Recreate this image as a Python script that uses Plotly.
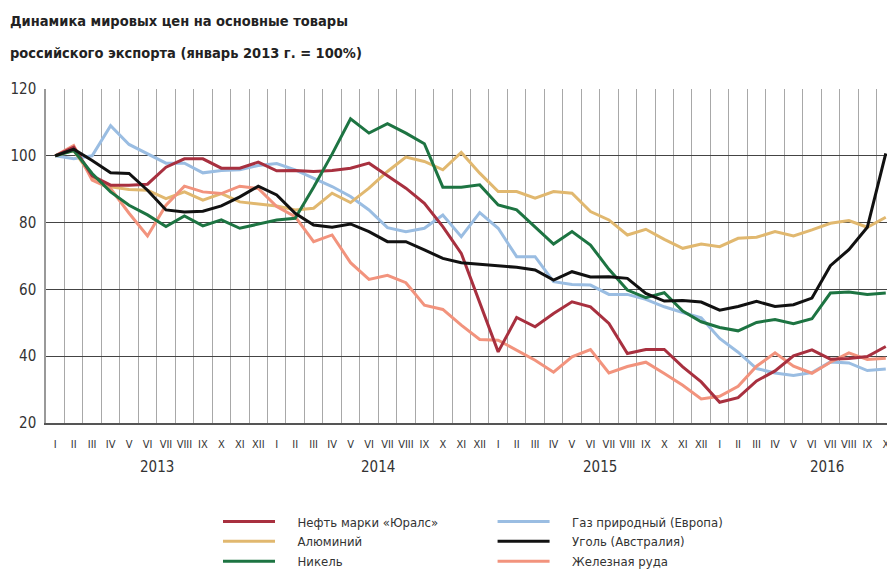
import plotly.graph_objects as go

# monthly index, Jan 2013 = 100
months = ["I", "II", "III", "IV", "V", "VI", "VII", "VIII", "IX", "X", "XI", "XII"]
x_labels = months * 3 + months[:10]
years = ["2013", "2014", "2015", "2016"]
year_pos = [5.5, 17.5, 29.5, 41.8]

urals = [100, 102.6, 94, 91.2, 91.2, 91.5, 96.6, 99.1, 99.1, 96.3, 96.3, 98.1,
         95.5, 95.6, 95.3, 95.6, 96.3, 97.8, 94, 90.3, 85.8, 78.8, 70.8, 56,
         41.3, 51.6, 48.8, 52.8, 56.3, 54.8, 49.8, 40.8, 42, 42, 36.8, 32.3,
         26.2, 27.6, 32.6, 35.6, 40.1, 41.9, 39.1, 39.3, 39.9, 42.9]
aluminium = [100, 101.6, 93.7, 90.7, 89.9, 89.7, 87.2, 89.2, 86.7, 88.7, 86.2, 85.5,
             85, 83.8, 84.3, 88.8, 86, 90.3, 95.3, 99.6, 98.3, 95.8, 101, 94.8,
             89.3, 89.3, 87.3, 89.3, 88.8, 83.3, 80.8, 76.3, 78, 75, 72.3, 73.6,
             72.8, 75.3, 75.6, 77.3, 76, 77.8, 79.8, 80.6, 78.6, 81.6]
nickel = [100, 101.6, 94.7, 89.2, 85.2, 82.3, 78.8, 82, 79, 80.8, 78.3, 79.6,
          80.8, 81.3, 90.6, 100.5, 111.1, 106.8, 109.6, 106.8, 103.6, 90.6, 90.6, 91.3,
          85.3, 83.8, 78.8, 73.6, 77.3, 73.3, 66, 59.8, 57.5, 59, 53.5, 50.3,
          48.6, 47.6, 50.1, 51, 49.7, 51.2, 58.9, 59.2, 58.5, 58.9]
gas = [100, 99.1, 100, 109, 103.4, 100.6, 97.8, 97.8, 94.9, 95.6, 95.8, 97.1,
       97.7, 95.8, 93.3, 90.8, 87.8, 83.8, 78.5, 77.3, 78.3, 82.3, 75.8, 83,
       78.3, 69.8, 69.8, 62.3, 61.5, 61.3, 58.5, 58.5, 57, 54.8, 53.1, 51.5,
       45.3, 41.2, 36.3, 35, 34.2, 35.1, 38.3, 38, 35.7, 36.2]
coal = [100, 102, 98.6, 94.9, 94.7, 89.7, 83.8, 83.2, 83.4, 85, 87.7, 90.9,
        88.3, 82.8, 79.3, 78.6, 79.6, 77.3, 74.3, 74.3, 71.8, 69.3, 68, 67.6,
        67, 66.6, 65.8, 62.8, 65.3, 63.7, 63.8, 63.3, 58.8, 56.5, 56.7, 56.2,
        53.8, 54.9, 56.4, 54.9, 55.4, 57.4, 67.1, 71.9, 78.6, 100.7]
iron_ore = [100, 103.1, 92.7, 90.2, 82.8, 76, 85.2, 90.9, 89.2, 88.7, 90.9, 90.2,
            84.8, 81.8, 74.3, 76.3, 68, 63, 64.2, 62, 55.3, 54, 49.3, 45,
            44.8, 41.8, 38.8, 35.2, 39.8, 42, 35, 36.9, 38.2, 34.8, 31.3, 27.2,
            28, 31, 37, 41, 37, 34.9, 38.2, 41, 39, 39.4]

# (name, values, colour, legend, rank) - drawing order bottom to top
series = [
    ("Газ природный (Европа)", gas, "#9abde2", "legend2", 1),
    ("Алюминий", aluminium, "#e1b86f", "legend", 2),
    ("Железная руда", iron_ore, "#f2937d", "legend2", 3),
    ("Нефть марки «Юралс»", urals, "#a8303f", "legend", 1),
    ("Никель", nickel, "#1d7442", "legend", 3),
    ("Уголь (Австралия)", coal, "#111111", "legend2", 2),
]

FONT = "DejaVu Sans Condensed, Liberation Sans Narrow, sans-serif"
n = len(x_labels)
xs = list(range(n))
PAD = "\u2002\u2002\u2002"  # gap between legend line and its text

fig = go.Figure()
for name, vals, col, leg, rank in series:
    fig.add_trace(go.Scatter(
        x=xs, y=vals, name=PAD + name, mode="lines",
        line=dict(color=col, width=3),
        legend=leg, legendrank=rank,
    ))

for yr, pos in zip(years, year_pos):
    fig.add_annotation(x=pos, y=-0.164, xref="x", yref="paper", text=yr,
                       showarrow=False, font=dict(family=FONT, size=15, color="#333"))

fig.add_annotation(x=-0.045, y=1.235, xref="paper", yref="paper", xanchor="left",
                   text="<b>Динамика мировых цен на основные товары</b>",
                   showarrow=False, font=dict(family=FONT, size=14.5, color="#222"))
fig.add_annotation(x=-0.045, y=1.137, xref="paper", yref="paper", xanchor="left",
                   text="<b>российского экспорта (январь 2013 г. = 100%)</b>",
                   showarrow=False, font=dict(family=FONT, size=14.5, color="#222"))

legend_style = dict(font=dict(family=FONT, size=13, color="#333"), bgcolor="rgba(0,0,0,0)",
                    yanchor="top", xanchor="left", itemwidth=52, tracegroupgap=0)

# page body has an 8px margin, so the figure is 8px smaller than the window
fig.update_layout(
    width=887, height=571,
    margin=dict(l=38, r=0, t=81, b=156, autoexpand=False),
    paper_bgcolor="white", plot_bgcolor="white",
    showlegend=True,
    legend=dict(x=0.2026, y=-0.25, **legend_style),
    legend2=dict(x=0.526, y=-0.25, **legend_style),
    xaxis=dict(
        range=[-0.5, n - 0.5], tickmode="array", tickvals=xs, ticktext=x_labels,
        tickangle=0, automargin=False,
        showgrid=False, zeroline=False, ticks="", ticklabelstandoff=10,
        tickfont=dict(family=FONT, size=11, color="#333"),
        minor=dict(tickvals=[i - 0.5 for i in range(1, n)], showgrid=True,
                   gridcolor="#a8a8a8", gridwidth=1, ticks=""),
        showline=True, linecolor="#555", linewidth=1.5, mirror=False,
    ),
    yaxis=dict(
        range=[20, 120], tickvals=[20, 40, 60, 80, 100, 120], automargin=False,
        showgrid=True, gridcolor="#444", gridwidth=1, zeroline=False,
        ticks="", ticklabelstandoff=5,
        tickfont=dict(family=FONT, size=15, color="#333"),
        showline=True, linecolor="#999", linewidth=1.5,
    ),
)

fig.write_html("out.html")
